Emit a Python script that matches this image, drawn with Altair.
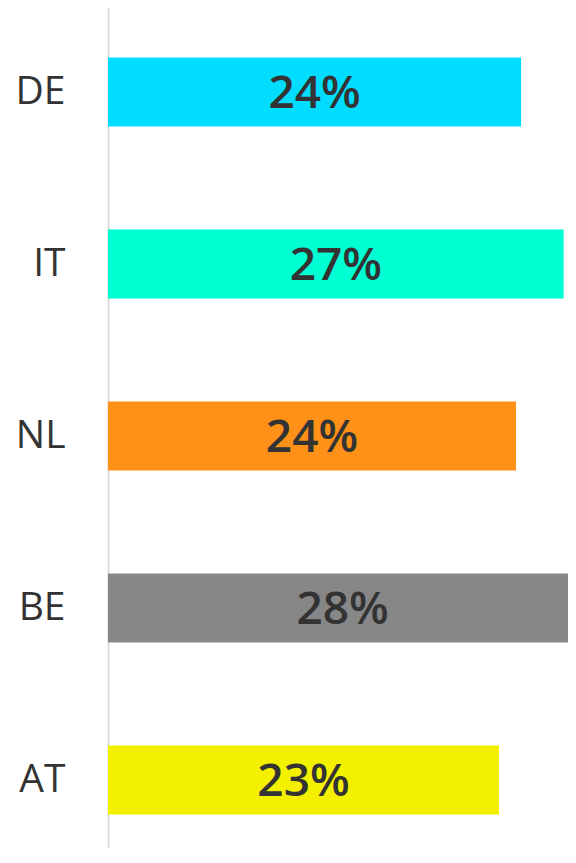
import altair as alt
import pandas as pd

countries = ["DE", "IT", "NL", "BE", "AT"]
values = [24.3, 26.8, 24.0, 27.6, 23.0]
labels = ["24%", "27%", "24%", "28%", "23%"]
colors = ["#00DDFF", "#00FFD2", "#FF9018", "#878787", "#F3F000"]

df = pd.DataFrame({"country": countries, "value": values, "label": labels})

y = alt.Y("country:N", sort=countries, title=None,
          scale=alt.Scale(range=[-2, 858], paddingInner=0.6, paddingOuter=0.3),
          axis=alt.Axis(labelFontSize=39, labelFont="Open Sans", labelColor="#333333",
                        labelPadding=43, ticks=False, domainColor="#DDDDDD",
                        domainWidth=2, grid=False))
x = alt.X("value:Q", title=None,
          scale=alt.Scale(domain=[0, 460 / 17.0], nice=False, zero=True),
          axis=None)

bars = alt.Chart(df).mark_bar(clip=True).encode(
    y=y, x=x,
    color=alt.Color("country:N", scale=alt.Scale(domain=countries, range=colors), legend=None),
)

text = alt.Chart(df).transform_calculate(mid="datum.value / 2").mark_text(
    font="Open Sans", fontWeight=600, fontSize=46, color="#333333",
    baseline="middle", align="center", dy=2
).encode(
    y=alt.Y("country:N", sort=countries),
    x=alt.X("mid:Q"),
    text="label:N",
)

chart = (bars + text).properties(
    width=460, height=840,
    autosize=alt.AutoSizeParams(type="none"),
    padding={"left": 100, "right": 0, "top": 0, "bottom": 0},
).configure_view(stroke=None)

chart.save("out.html", embed_options={"renderer": "svg", "actions": False})
